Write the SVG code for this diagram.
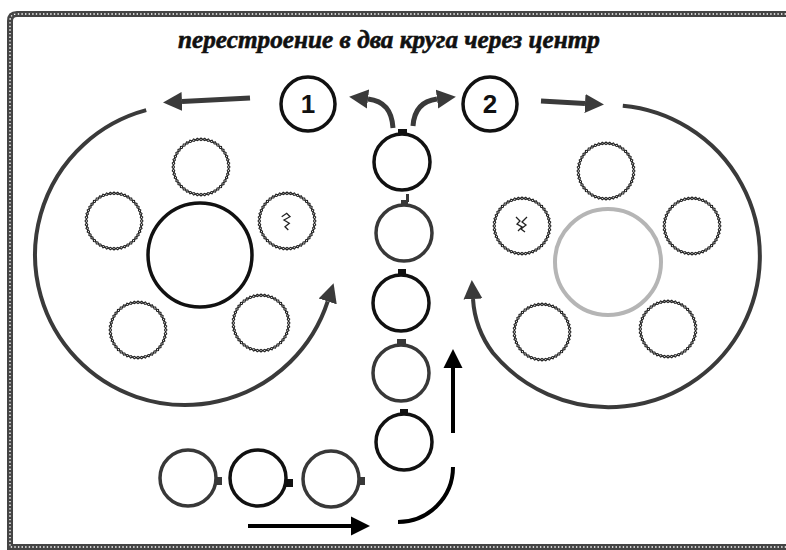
<svg xmlns="http://www.w3.org/2000/svg" xmlns:xlink="http://www.w3.org/1999/xlink" width="786" height="550" viewBox="0 0 786 550">
<style>
.frame{fill:none;stroke:#444;stroke-width:6}
.frameDots{fill:none;stroke:#fff;stroke-width:1.4;stroke-dasharray:1.4 2.2}
.title{font-family:"Liberation Serif","DejaVu Serif",serif;font-weight:bold;font-style:italic;font-size:26px;fill:#111;stroke:#111;stroke-width:0.6}
.num{font-family:"Liberation Sans","DejaVu Sans",sans-serif;font-weight:bold;font-size:26px;fill:#111;text-anchor:middle}
.numc{fill:#fff;stroke:#111;stroke-width:3.5}
.bigBlack{fill:#fff;stroke:#111;stroke-width:3.5}
.bigGray{fill:#fff;stroke:#b5b5b5;stroke-width:4}
.stitch{fill:none;stroke:#222;stroke-width:1.1}
.pl{fill:#fff;stroke-width:3.5}
.k{stroke:#111}
.g{stroke:#383838}
.tab{stroke:none}
.tk{fill:#111}
.tg{fill:#383838}
.arc{fill:none;stroke:#3a3a3a;stroke-width:4}
.garrow{fill:none;stroke:#3a3a3a;stroke-width:5}
.barrow{fill:none;stroke:#000;stroke-width:4}
.mark{fill:none;stroke:#222;stroke-width:1.3}
</style>
<defs>
<marker id="ahG" markerUnits="userSpaceOnUse" markerWidth="20" markerHeight="20" refX="0" refY="9.5" orient="auto" viewBox="0 0 20 19">
<path d="M0,0 L19,9.5 L0,19 z" fill="#3a3a3a"/>
</marker>
<marker id="ahB" markerUnits="userSpaceOnUse" markerWidth="20" markerHeight="20" refX="0" refY="9.5" orient="auto" viewBox="0 0 20 19">
<path d="M0,0 L19,9.5 L0,19 z" fill="#000"/>
</marker>
<g id="zz">
<path class="stitch" d="M29,0 L26.27,3.46 L28.01,7.51 L24.48,10.14 L25.11,14.5 L21.02,16.13 L20.51,20.51 L16.13,21.02 L14.5,25.11 L10.14,24.48 L7.51,28.01 L3.46,26.27 L0,29 L-3.46,26.27 L-7.51,28.01 L-10.14,24.48 L-14.5,25.11 L-16.13,21.02 L-20.51,20.51 L-21.02,16.13 L-25.11,14.5 L-24.48,10.14 L-28.01,7.51 L-26.27,3.46 L-29,0 L-26.27,-3.46 L-28.01,-7.51 L-24.48,-10.14 L-25.11,-14.5 L-21.02,-16.13 L-20.51,-20.51 L-16.13,-21.02 L-14.5,-25.11 L-10.14,-24.48 L-7.51,-28.01 L-3.46,-26.27 L0,-29 L3.46,-26.27 L7.51,-28.01 L10.14,-24.48 L14.5,-25.11 L16.13,-21.02 L20.51,-20.51 L21.02,-16.13 L25.11,-14.5 L24.48,-10.14 L28.01,-7.51 L26.27,-3.46 Z"/>
<path class="stitch" transform="rotate(7.5)" d="M29,0 L26.27,3.46 L28.01,7.51 L24.48,10.14 L25.11,14.5 L21.02,16.13 L20.51,20.51 L16.13,21.02 L14.5,25.11 L10.14,24.48 L7.51,28.01 L3.46,26.27 L0,29 L-3.46,26.27 L-7.51,28.01 L-10.14,24.48 L-14.5,25.11 L-16.13,21.02 L-20.51,20.51 L-21.02,16.13 L-25.11,14.5 L-24.48,10.14 L-28.01,7.51 L-26.27,3.46 L-29,0 L-26.27,-3.46 L-28.01,-7.51 L-24.48,-10.14 L-25.11,-14.5 L-21.02,-16.13 L-20.51,-20.51 L-16.13,-21.02 L-14.5,-25.11 L-10.14,-24.48 L-7.51,-28.01 L-3.46,-26.27 L0,-29 L3.46,-26.27 L7.51,-28.01 L10.14,-24.48 L14.5,-25.11 L16.13,-21.02 L20.51,-20.51 L21.02,-16.13 L25.11,-14.5 L24.48,-10.14 L28.01,-7.51 L26.27,-3.46 Z"/>
</g>
</defs>
<rect width="786" height="550" fill="#fff"/>
<g id="frame">
<path class="frame" d="M786,14 H17 Q10,14 10,21 V547 H786"/>
<path class="frameDots" d="M786,14 H17 Q10,14 10,21 V547 H786"/>
</g>
<text class="title" x="389" y="48" text-anchor="middle" textLength="422" lengthAdjust="spacingAndGlyphs">перестроение в два круга через центр</text>

<g id="connectors">
<path class="arc" d="M146.2,110.1 A150,150 0 1 0 327.7,301.4" marker-end="url(#ahG)"/>
<path class="arc" d="M622.8,105.8 A151,151 0 1 1 493,353 A100,100 0 0 1 473,299" marker-end="url(#ahG)"/>
<line class="garrow" x1="250" y1="98" x2="182" y2="101.5" marker-end="url(#ahG)"/>
<line class="garrow" x1="541" y1="101" x2="585" y2="103.5" marker-end="url(#ahG)"/>
<path class="garrow" d="M393,128 C392,111 385,101 368,99" marker-end="url(#ahG)"/>
<path class="garrow" d="M413,126 C414,111 421,101 437,99" marker-end="url(#ahG)"/>
<line class="barrow" x1="248" y1="526" x2="351" y2="526" marker-end="url(#ahB)"/>
<path class="barrow" d="M398,522 A55,55 0 0 0 453,467"/>
<line class="barrow" x1="453" y1="433" x2="453" y2="368" marker-end="url(#ahB)"/>
</g>

<g id="n1">
<circle class="numc" cx="308" cy="104" r="27"/>
<text class="num" x="308" y="113">1</text>
</g>
<g id="n2">
<circle class="numc" cx="490" cy="104" r="27"/>
<text class="num" x="490" y="113">2</text>
</g>

<g id="leftCircle">
<circle class="bigBlack" cx="200" cy="255" r="52"/>
<use xlink:href="#zz" href="#zz" transform="translate(201,167)"/>
<use xlink:href="#zz" href="#zz" transform="translate(114,221)"/>
<use xlink:href="#zz" href="#zz" transform="translate(287,221)"/>
<use xlink:href="#zz" href="#zz" transform="translate(138,330)"/>
<use xlink:href="#zz" href="#zz" transform="translate(261,323)"/>
<path class="mark" d="M281.7,216.7 L286.7,213.3 L290,216.7 L284,220 L289.3,223.3 L285,226.7 L288.3,230"/>
</g>

<g id="rightCircle">
<circle class="bigGray" cx="608" cy="262" r="53"/>
<use xlink:href="#zz" href="#zz" transform="translate(606,171)"/>
<use xlink:href="#zz" href="#zz" transform="translate(522,226)"/>
<use xlink:href="#zz" href="#zz" transform="translate(692,226)"/>
<use xlink:href="#zz" href="#zz" transform="translate(542,332)"/>
<use xlink:href="#zz" href="#zz" transform="translate(668,329)"/>
<path class="mark" d="M516,217 L520,221 L517,224 L522,227 L518,231 M527,217 L522,222 L526,225 L521,229 L525,232"/>
</g>

<g id="column">
<g id="p1"><rect class="tab tk" x="398" y="129" width="9" height="6"/><circle class="pl k" cx="402" cy="162" r="28"/></g>
<g id="p2"><rect class="tab tg" x="401" y="200" width="7" height="6"/><rect class="tab tg" x="406" y="194" width="3" height="8"/><circle class="pl g" cx="404" cy="233" r="28"/></g>
<g id="p3"><rect class="tab tk" x="398" y="269" width="8" height="6"/><circle class="pl k" cx="401" cy="303" r="28"/></g>
<g id="p4"><rect class="tab tg" x="397" y="339" width="9" height="7"/><circle class="pl g" cx="401" cy="373" r="28"/></g>
<g id="p5"><rect class="tab tk" x="400" y="409" width="8" height="6"/><circle class="pl k" cx="404" cy="442" r="28"/></g>
</g>

<g id="row">
<g id="pa"><rect class="tab tg" x="214" y="477" width="8" height="8"/><circle class="pl g" cx="188" cy="478" r="28"/></g>
<g id="pb"><rect class="tab tk" x="285" y="479" width="8" height="8"/><circle class="pl k" cx="258" cy="478" r="28"/></g>
<g id="pc"><rect class="tab tg" x="357" y="477" width="8" height="8"/><circle class="pl g" cx="331" cy="479" r="28"/></g>
</g>
</svg>
